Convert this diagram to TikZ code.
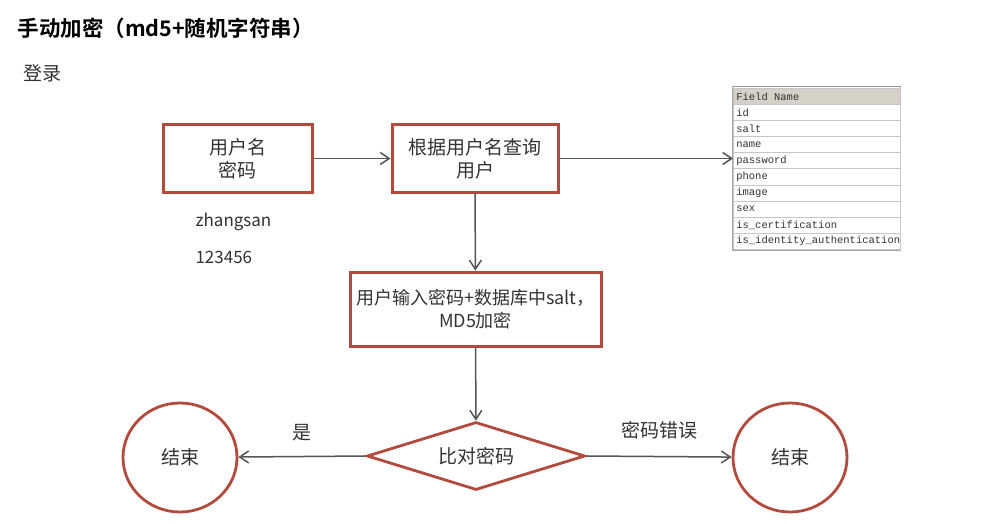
\documentclass[tikz,border=0pt]{standalone}
\usepackage{fontspec}
\setmainfont{Noto Sans CJK SC}
\newfontfamily\cjkbold{Noto Sans CJK SC Bold}
\newfontfamily\fieldfont{Liberation Mono}
\usepackage{xcolor}
\usetikzlibrary{arrows.meta,positioning,shapes.geometric}
\definecolor{boxred}{HTML}{B24A3E}
\definecolor{linegray}{HTML}{555555}
\definecolor{txtgray}{HTML}{333333}
\definecolor{headfill}{HTML}{D5D1C6}
\tikzset{
  stepbox/.style={draw=boxred, line width=3pt, fill=white, align=center, font=\fontsize{19}{23}\selectfont, text=txtgray},
  check/.style={draw=boxred, line width=2.8pt, diamond, aspect=3.2, minimum width=218pt, minimum height=68pt, inner sep=0pt, font=\fontsize{19}{23}\selectfont, text=txtgray},
  endstate/.style={draw=boxred, line width=2.8pt, ellipse, minimum width=114pt, minimum height=109pt, font=\fontsize{19}{23}\selectfont, text=txtgray},
  field/.style={draw=gray!45, line width=0.6pt, anchor=north west, text width=161pt, inner xsep=3pt, inner ysep=0pt, minimum height=16.1pt, align=left, font=\fieldfont\fontsize{10.5}{12}\selectfont, text=txtgray},
  flow/.style={-{Straight Barb[length=9pt, width=12pt, line width=1.5pt]}, line width=1.5pt, draw=linegray},
  plain/.style={font=\fontsize{19}{23}\selectfont, text=txtgray}
}
\begin{document}
\begin{tikzpicture}[x=1pt,y=-1pt]
  \useasboundingbox[fill=white] (0,0) rectangle (1007,524);

  \node[anchor=west, font=\cjkbold\fontsize{21.5}{25}\selectfont, text=black] (title) at (14,28) {手动加密（md5+随机字符串）};
  \node[anchor=west, plain] (login) at (20,73) {登录};

  \node[stepbox, minimum width=149pt, minimum height=67pt] (input) at (237.5,158.5) {用户名\\密码};
  \node[stepbox, minimum width=166pt, minimum height=67pt] (query) at (475,158.5) {根据用户名查询\\用户};
  \node[stepbox, minimum width=251pt, minimum height=74pt, font=\fontsize{18}{23}\selectfont] (encrypt) at (475.5,309) {用户输入密码+数据库中salt，\\MD5加密};
  \node[check] (compare) at (476,456) {比对密码};
  \node[endstate] (endok) at (180,457.5) {结束};
  \node[endstate] (endfail) at (790,457.5) {结束};

  \node[anchor=west, plain, font=\fontsize{17}{20}\selectfont] (user) at (192,222) {zhangsan};
  \node[anchor=west, plain, font=\fontsize{17}{20}\selectfont] (pwd) at (192,257) {123456};

  % user table
  \draw[line width=1pt, draw=gray!70, fill=white] (732.5,86.5) rectangle (900.5,250.5);
  \draw[line width=1.6pt, draw=gray!85] (732.5,86.5) -- (900.5,86.5);
  \node[field, fill=headfill] (head) at (733,88) {Field\hspace{0.6em}Name};
  \foreach \fname [count=\i] in {id,salt,name,password,phone,image,sex,is\_certification,is\_identity\_authentication}
    \node[field] (row\i) at (733,88+\i*16.1) {\fname};

  \draw[flow] (input) -- (query);
  \draw[flow] (query.east) -- (query.east -| row4.west);
  \draw[flow] (query) -- (encrypt);
  \draw[flow] (encrypt) -- (compare);
  \draw[flow] (compare.west) -- node[above=11pt, plain] (yes) {是} (endok);
  \draw[flow] (compare.east) -- node[above=13pt, plain] (wrong) {密码错误} (endfail);
\end{tikzpicture}
\end{document}
